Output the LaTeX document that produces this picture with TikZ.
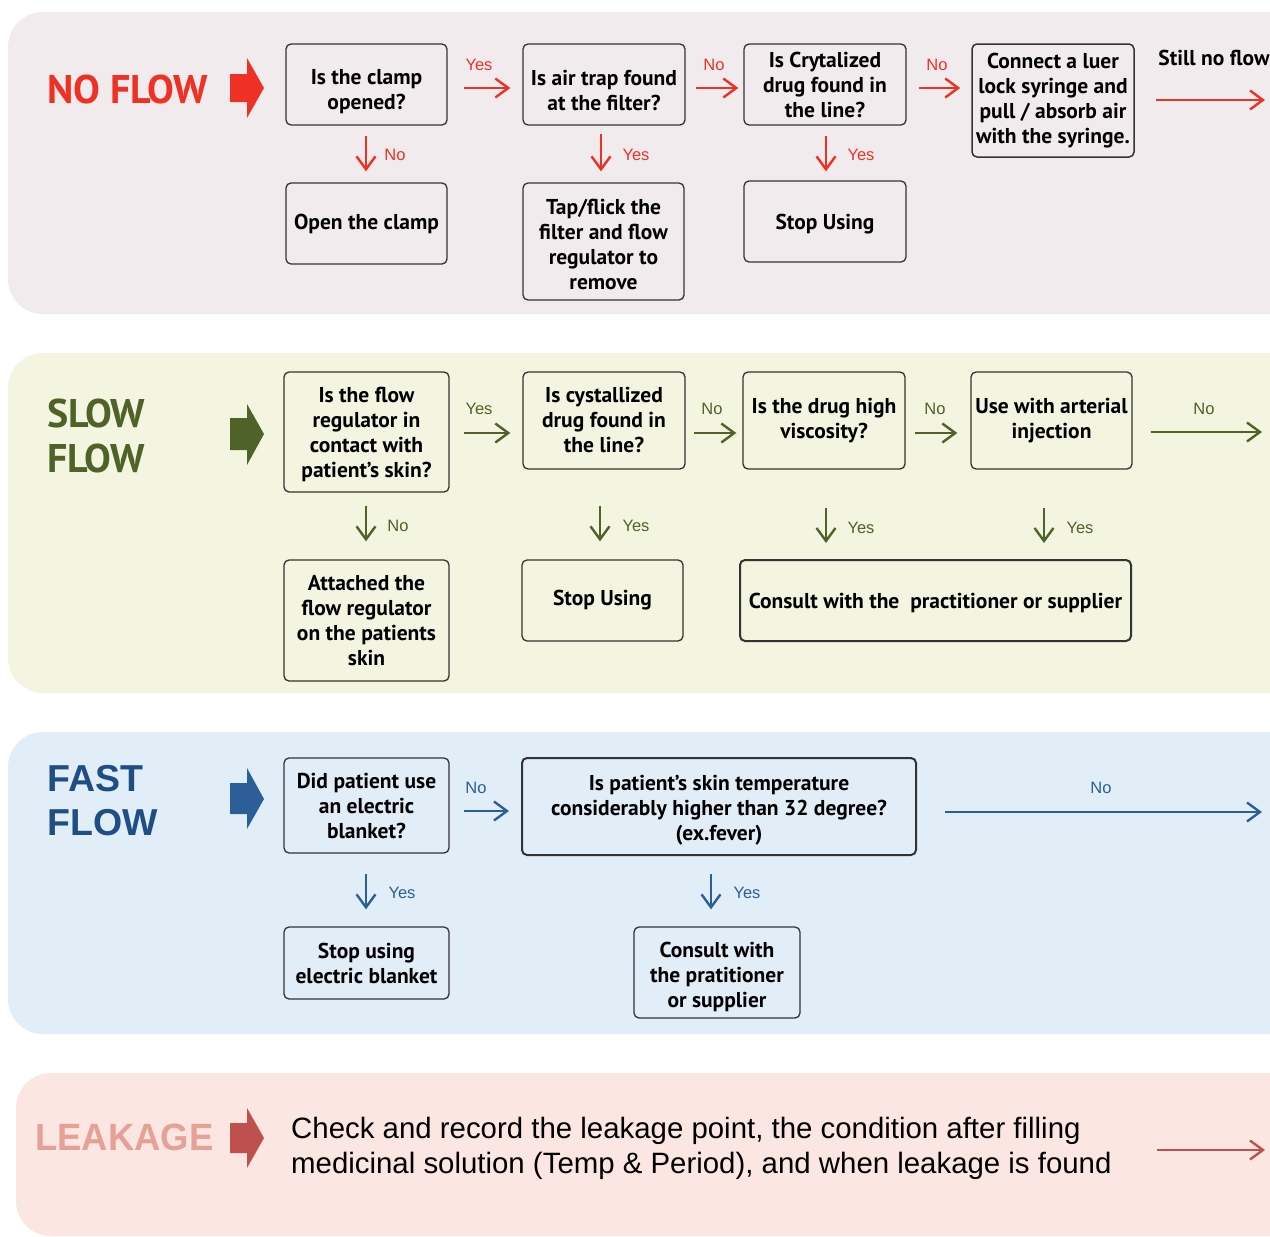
\documentclass[tikz,border=0pt]{standalone}
\usepackage{fontspec}
\setmainfont{PT Sans}
\newfontfamily\labfont{Liberation Sans}
\newfontfamily\leakfont{Liberation Sans}
\newfontfamily\leaktitlefont{Liberation Sans}[FakeStretch=0.96]
\newfontfamily\fasttitlefont{Liberation Sans}
\usetikzlibrary{arrows.meta}
\definecolor{nfred}{HTML}{EE3124}
\definecolor{olive}{HTML}{4F6228}
\definecolor{fblue}{HTML}{2C5F97}
\definecolor{ftitle}{HTML}{1F4E85}
\definecolor{lkred}{HTML}{C0504D}
\definecolor{lktitle}{HTML}{E6A197}
\definecolor{nfbg}{HTML}{F1EBED}
\definecolor{sfbg}{HTML}{F3F5E1}
\definecolor{ffbg}{HTML}{E1EDF7}
\definecolor{lkbg}{HTML}{FBE6E1}
\definecolor{boxc}{HTML}{333333}
\newcommand\tup[1]{\rule{0pt}{#1pt}}
\begin{document}
\begin{tikzpicture}[x=1pt,y=-1pt,
  box/.style={draw=boxc, line width=1.3pt, rounded corners=5pt, align=center,
    font=\bfseries\fontsize{21.5}{25}\selectfont, inner sep=0pt},
  thickbox/.style={box, line width=2pt},
  arr/.style={line width=2.4pt, -{Straight Barb[length=13pt,width=19pt]}},
  lab/.style={font=\labfont\fontsize{16.5}{16.5}\selectfont, inner sep=0pt},
  panel/.style={rounded corners=35pt}
]
\useasboundingbox (0,0) rectangle (1270,1237);
\clip (0,0) rectangle (1270,1237);
\fill[white] (0,0) rectangle (1270,1237);
% panels
\fill[nfbg,panel] (8,12) rectangle (1330,314);
\fill[sfbg,panel] (8,353) rectangle (1330,693);
\fill[ffbg,panel] (8,732) rectangle (1330,1034);
\fill[lkbg,panel] (16,1073) rectangle (1330,1236);

% ---------------- NO FLOW ----------------
\node[anchor=base west, inner sep=0pt, text=nfred, font=\bfseries\fontsize{40}{40}\selectfont] (tnf) at (47,103) {NO FLOW};
\fill[nfred] (230,74) -- (247,74) -- (247,58) -- (264,88) -- (247,118) -- (247,102) -- (230,102) -- cycle;

\node[box, minimum width=161pt, minimum height=81pt] (b1) at (366.5,84.5) {\tup{29.5}Is the clamp\\opened?};
\node[box, minimum width=161pt, minimum height=81pt] (b1n) at (366.5,223.5) {Open the clamp};
\node[box, minimum width=162pt, minimum height=81pt] (b2) at (604,84.5) {\tup{26.5}Is air trap found\\at the filter?};
\node[box, minimum width=161pt, minimum height=117pt] (b2y) at (603.5,241.5) {\tup{20.5}Tap/flick the\\filter and flow\\regulator to\\remove};
\node[box, minimum width=162pt, minimum height=81pt] (b3) at (825,84.5) {Is Crytalized\\drug found in\\the line?};
\node[box, minimum width=162pt, minimum height=81pt] (b3y) at (825,221.5) {\tup{21.5}Stop Using};
\node[box, line width=1.5pt, minimum width=162pt, minimum height=113pt] (b4) at (1053,100.5) {Connect a luer\\lock syringe and\\pull / absorb air\\with the syringe.};
\node[inner sep=0pt, font=\bfseries\fontsize{21.5}{25}\selectfont] (still) at (1214,58) {Still no flow};
\coordinate (nfend) at (1265,100);
\coordinate (nfy) at (0,88);

\begin{scope}[nfred]
\draw[arr, shorten <=16pt, shorten >=12pt] (b1.east |- nfy) -- (b2.west |- nfy);
\draw[arr, shorten <=10pt, shorten >=5pt] (b2.east |- nfy) -- (b3.west |- nfy);
\draw[arr, shorten <=12pt, shorten >=11pt] (b3.east |- nfy) -- (b4.west |- nfy);
\draw[arr, shorten <=21pt] (b4.east |- nfend) -- (nfend);
\draw[arr, shorten <=10pt, shorten >=11pt] ([xshift=-0.5pt]b1.south) -- ([xshift=-0.5pt]b1n.north);
\draw[arr, shorten <=8pt, shorten >=11pt] ([xshift=-3pt]b2.south) -- ([xshift=-2.5pt]b2y.north);
\draw[arr, shorten <=10pt, shorten >=9pt] ([xshift=1pt]b3.south) -- ([xshift=1pt]b3y.north);
\node[lab, text=nfred] (l1) at (479,65) {Yes};
\node[lab, text=nfred] (l2) at (714,65) {No};
\node[lab, text=nfred] (l3) at (937,65) {No};
\node[lab, text=nfred] (l4) at (395,155) {No};
\node[lab, text=nfred] (l5) at (636,155) {Yes};
\node[lab, text=nfred] (l6) at (861,155) {Yes};
\end{scope}

% ---------------- SLOW FLOW ----------------
\node[anchor=base west, inner sep=0pt, align=left, text=olive, font=\bfseries\fontsize{40}{45}\selectfont] (tsf) at (47,472) {SLOW\\FLOW};
\fill[olive] (230,418) -- (247,418) -- (247,404) -- (264,434) -- (247,465) -- (247,450) -- (230,450) -- cycle;

\node[box, minimum width=165pt, minimum height=120pt] (s1) at (366.5,432) {\tup{20.5}Is the flow\\regulator in\\contact with\\patient’s skin?};
\node[box, minimum width=165pt, minimum height=121pt] (s1n) at (366.5,620.5) {Attached the\\flow regulator\\on the patients\\skin};
\node[box, minimum width=162pt, minimum height=97pt] (s2) at (604,420.5) {Is cystallized\\drug found in\\the line?};
\node[box, minimum width=161pt, minimum height=81pt] (s2y) at (602.5,600.5) {Stop Using};
\node[box, minimum width=162pt, minimum height=97pt] (s3) at (824,420.5) {Is the drug high\\viscosity?};
\node[box, minimum width=161pt, minimum height=97pt] (s4) at (1051.5,420.5) {Use with arterial\\injection};
\node[thickbox, minimum width=391pt, minimum height=81pt] (s34) at (935.5,600.5) {\tup{19.5}Consult with the\ \ practitioner or supplier};
\coordinate (sfy) at (0,433);
\coordinate (sfend) at (1262,432);

\begin{scope}[olive]
\draw[arr, shorten <=14pt, shorten >=12pt] (s1.east |- sfy) -- (s2.west |- sfy);
\draw[arr, shorten <=8pt, shorten >=6pt] (s2.east |- sfy) -- (s3.west |- sfy);
\draw[arr, shorten <=9pt, shorten >=13pt] (s3.east |- sfy) -- (s4.west |- sfy);
\draw[arr, shorten <=18pt] (s4.east |- sfend) -- (sfend);
\draw[arr, shorten <=13pt, shorten >=18pt] ([xshift=-0.5pt]s1.south) -- ([xshift=-0.5pt]s1n.north);
\draw[arr, shorten <=36pt, shorten >=18pt] ([xshift=-4pt]s2.north |- s2.south) -- ([xshift=-2.5pt]s2y.north);
\draw[arr, shorten <=38pt, shorten >=16pt] ([xshift=2pt]s3.south) -- ([xshift=2pt]s3.south |- s34.north);
\draw[arr, shorten <=38pt, shorten >=16pt] ([xshift=-7.5pt]s4.south) -- ([xshift=-7.5pt]s4.south |- s34.north);
\node[lab, text=olive] (m1) at (479,409) {Yes};
\node[lab, text=olive] (m2) at (712,409) {No};
\node[lab, text=olive] (m3) at (935,409) {No};
\node[lab, text=olive] (m4) at (1204,409) {No};
\node[lab, text=olive] (m5) at (398,526) {No};
\node[lab, text=olive] (m6) at (636,526) {Yes};
\node[lab, text=olive] (m7) at (861,528) {Yes};
\node[lab, text=olive] (m8) at (1080,528) {Yes};
\end{scope}

% ---------------- FAST FLOW ----------------
\node[anchor=base west, inner sep=0pt, align=left, text=ftitle, font=\fasttitlefont\bfseries\fontsize{37.5}{44}\selectfont] (tff) at (47,835) {FAST\\FLOW};
\fill[fblue] (230,783) -- (247,783) -- (247,768) -- (264,799) -- (247,829) -- (247,814) -- (230,814) -- cycle;

\node[box, minimum width=165pt, minimum height=95pt] (f1) at (366.5,805.5) {Did patient use\\an electric\\blanket?};
\node[thickbox, minimum width=394pt, minimum height=97pt] (f2) at (719,806.5) {\tup{23.5}Is patient’s skin temperature\\considerably higher than 32 degree?\\(ex.fever)};
\node[box, minimum width=165pt, minimum height=72pt] (f1y) at (366.5,963) {Stop using\\electric blanket};
\node[box, minimum width=166pt, minimum height=91pt] (f2y) at (717,972.5) {\tup{24.5}Consult with\\the pratitioner\\or supplier};
\coordinate (ffy) at (0,811);
\coordinate (ffend) at (1262,812);

\begin{scope}[fblue]
\draw[arr, shorten <=14pt, shorten >=12pt] (f1.east |- ffy) -- (f2.west |- ffy);
\draw[arr, shorten <=28pt] (f2.east |- ffend) -- (ffend);
\draw[arr, shorten <=20pt, shorten >=17pt] ([xshift=-0.5pt]f1.south) -- ([xshift=-0.5pt]f1y.north);
\draw[arr, shorten <=18pt, shorten >=17pt] ([xshift=-8pt]f2.south) -- ([xshift=-6pt]f2y.north);
\node[lab, text=fblue] (n1) at (476,788) {No};
\node[lab, text=fblue] (n2) at (1101,788) {No};
\node[lab, text=fblue] (n3) at (402,893) {Yes};
\node[lab, text=fblue] (n4) at (747,893) {Yes};
\end{scope}

% ---------------- LEAKAGE ----------------
\node[anchor=base west, inner sep=0pt, text=lktitle, font=\leaktitlefont\bfseries\fontsize{38}{38}\selectfont] (tlk) at (35,1150) {LEAKAGE};
\fill[lkred] (230,1123) -- (247,1123) -- (247,1108) -- (264,1138) -- (247,1168) -- (247,1153) -- (230,1153) -- cycle;
\node[anchor=base west, inner sep=0pt, align=left, font=\leakfont\fontsize{29.4}{35}\selectfont] (lk) at (291,1173) {Check and record the leakage point, the condition after filling\\medicinal solution (Temp \& Period), and when leakage is found};
\coordinate (lkend) at (1265,1150);
\draw[arr, lkred, shorten <=45pt] (lk.east |- lkend) -- (lkend);
\end{tikzpicture}
\end{document}
